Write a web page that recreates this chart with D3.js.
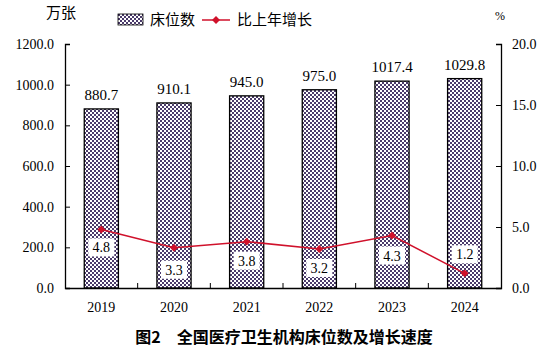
<!DOCTYPE html>
<html><head><meta charset="utf-8">
<script src="https://cdn.jsdelivr.net/npm/d3@7"></script>
<style>body{margin:0;background:#fff}svg{display:block}</style>
</head><body><svg id="c" width="554" height="358"></svg>
<script>
const years = ["2019","2020","2021","2022","2023","2024"];
const beds = [880.7, 910.1, 945.0, 975.0, 1017.4, 1029.8];
const growth = [4.8, 3.3, 3.8, 3.2, 4.3, 1.2];
const leftTicks = [0, 200, 400, 600, 800, 1000, 1200];
const rightTicks = [0, 5, 10, 15, 20];

const svg = d3.select("#c");
const L = 65, R = 501, T = 44, B = 288;
const serif = "'Liberation Serif','Times New Roman',serif";
const cjk = "'Noto Sans CJK SC','Noto Sans',sans-serif";

const defs = svg.append("defs");
const pat = defs.append("pattern").attr("id","chk").attr("patternUnits","userSpaceOnUse")
  .attr("width",4).attr("height",4);
pat.append("rect").attr("width",4).attr("height",4).attr("fill","#fff");
pat.append("rect").attr("width",2).attr("height",2).attr("fill","#4b3b6b");
pat.append("rect").attr("x",2).attr("y",2).attr("width",2).attr("height",2).attr("fill","#4b3b6b");

const x = d3.scaleBand().domain(years).range([L,R]).paddingInner(0.53).paddingOuter(0.265);
const xb = d3.scaleBand().domain(years).range([L,R]);
const y = d3.scaleLinear().domain([0,1200]).range([B,T]);
const y2 = d3.scaleLinear().domain([0,20]).range([B,T]);

// bars
svg.selectAll("rect.bar").data(beds).enter().append("rect")
  .attr("x",(d,i)=>x(years[i])).attr("y",d=>y(d))
  .attr("width",x.bandwidth()).attr("height",d=>B-y(d))
  .attr("fill","url(#chk)").attr("stroke","#000").attr("stroke-width",1.3);

// bar labels
svg.selectAll("text.bl").data(beds).enter().append("text")
  .attr("x",(d,i)=>xb(years[i])+xb.bandwidth()/2).attr("y",d=>y(d)-9)
  .attr("text-anchor","middle").attr("font-family",serif).attr("font-size",15)
  .text(d=>d.toFixed(1));

// axes
const yl = d3.axisLeft(y).tickValues(leftTicks).tickSize(-5).tickPadding(11).tickFormat(d=>d.toFixed(1));
const gl = svg.append("g").attr("transform",`translate(${L},0)`).call(yl);
const yr = d3.axisRight(y2).tickValues(rightTicks).tickSize(-5).tickPadding(11).tickFormat(d=>d.toFixed(1));
const gr = svg.append("g").attr("transform",`translate(${R},0)`).call(yr);
const xa = d3.axisBottom(xb).tickSize(0).tickPadding(14);
const gx = svg.append("g").attr("transform",`translate(0,${B})`).call(xa);
[gl,gr,gx].forEach(g=>{
  g.selectAll("text").attr("font-family",serif).attr("font-size",14).attr("fill","#000");
  g.select(".domain").attr("stroke","#000").attr("stroke-width",1.3);
  g.selectAll(".tick line").attr("stroke","#000");
});
// x tick marks between categories (upward)
svg.append("g").selectAll("line").data(years.slice(1)).enter().append("line")
  .attr("x1",d=>xb(d)).attr("x2",d=>xb(d)).attr("y1",B).attr("y2",B-5)
  .attr("stroke","#000");

// line
const line = d3.line().x((d,i)=>xb(years[i])+xb.bandwidth()/2).y(d=>y2(d));
svg.append("path").datum(growth).attr("d",line).attr("fill","none")
  .attr("stroke","#d0112b").attr("stroke-width",1.5);
const sym = d3.symbol().type(d3.symbolDiamond2).size(40);
svg.selectAll("path.m").data(growth).enter().append("path")
  .attr("transform",(d,i)=>`translate(${xb(years[i])+xb.bandwidth()/2},${y2(d)})`)
  .attr("d",sym).attr("fill","#d0112b");

// line labels with white boxes
const offs = [18, 22, 19, 19, 20, -19];
const lg = svg.append("g");
growth.forEach((d,i)=>{
  const cx = xb(years[i])+xb.bandwidth()/2, cy = y2(d)+offs[i];
  lg.append("rect").attr("x",cx-13).attr("y",cy-9).attr("width",26).attr("height",18).attr("fill","#fff");
  lg.append("text").attr("x",cx).attr("y",cy+5).attr("text-anchor","middle")
    .attr("font-family",serif).attr("font-size",14).text(d.toFixed(1));
});

// unit labels
svg.append("text").attr("x",61).attr("y",18).attr("text-anchor","middle")
  .attr("font-family",cjk).attr("font-size",15).text("万张");
svg.append("text").attr("x",500).attr("y",20).attr("text-anchor","middle")
  .attr("font-family",serif).attr("font-size",12).text("%");

// legend
svg.append("rect").attr("x",118).attr("y",14).attr("width",25).attr("height",11)
  .attr("fill","url(#chk)").attr("stroke","#000").attr("stroke-width",0.8);
svg.append("text").attr("x",150).attr("y",25).attr("font-family",cjk).attr("font-size",15).text("床位数");
svg.append("line").attr("x1",202).attr("x2",230).attr("y1",20).attr("y2",20)
  .attr("stroke","#d0112b").attr("stroke-width",1.5);
svg.append("path").attr("transform","translate(216,20)").attr("d",sym).attr("fill","#d0112b");
svg.append("text").attr("x",237).attr("y",25).attr("font-family",cjk).attr("font-size",15).text("比上年增长");

// title
svg.append("text").attr("x",284).attr("y",343).attr("text-anchor","middle")
  .attr("font-family",cjk).attr("font-weight","bold").attr("font-size",16)
  .text("图2　全国医疗卫生机构床位数及增长速度");
</script></body></html>
